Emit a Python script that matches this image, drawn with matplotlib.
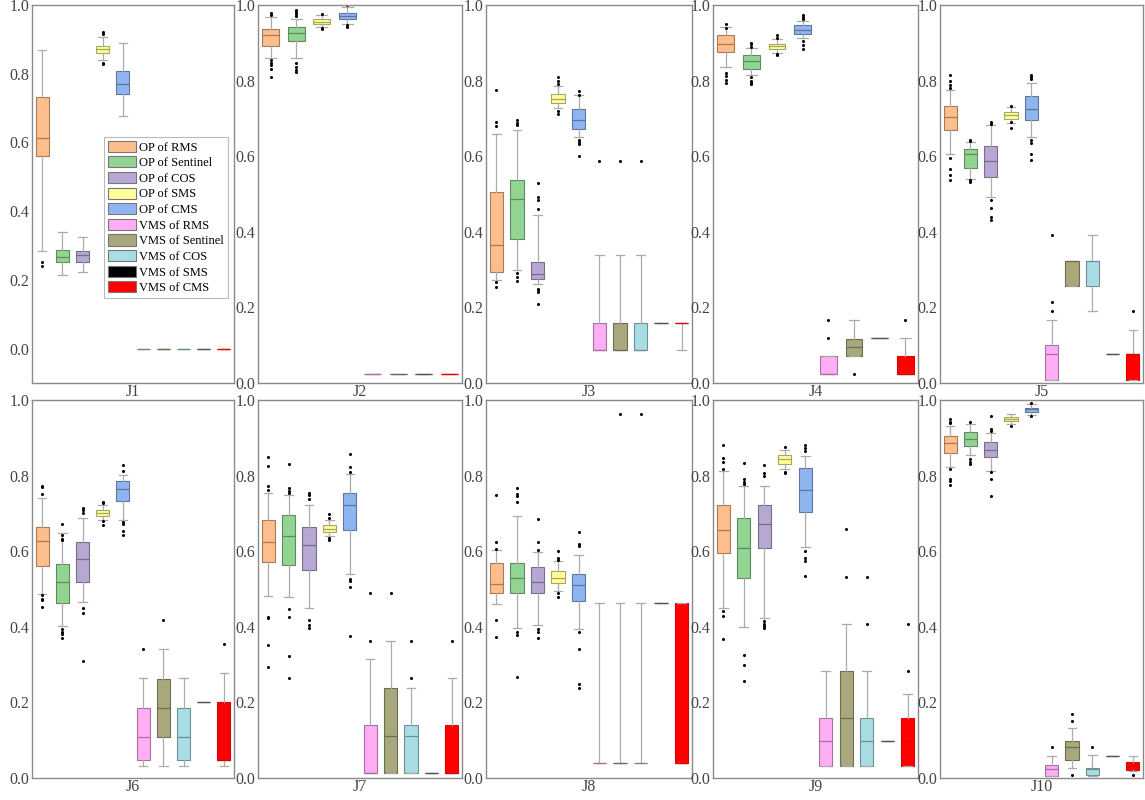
import matplotlib
matplotlib.use("Agg")
import matplotlib.pyplot as plt
from matplotlib.patches import Patch
import matplotlib.colors as mcolors

plt.rcParams['font.family'] = ['Liberation Serif', 'DejaVu Serif']

# ---------------- data ----------------
series = ["OP of RMS", "OP of Sentinel", "OP of COS", "OP of SMS", "OP of CMS",
          "VMS of RMS", "VMS of Sentinel", "VMS of COS", "VMS of SMS", "VMS of CMS"]
colors = ["#FDBE8C", "#92D492", "#B6A8D3", "#FFFF99", "#8FB5F0",
          "#FFAEF6", "#A8A87C", "#A9DDE4", "#000000", "#FF0000"]
panels = ["J1", "J2", "J3", "J4", "J5", "J6", "J7", "J8", "J9", "J10"]
all_series = [0, 1, 2, 3, 4, 5, 6, 7, 8, 9]
no_cos_series = [0, 1, 3, 4, 5, 6, 8, 9]

# J1
J1_lo  = [0.285, 0.214, 0.223, 0.840, 0.677, 0.0, 0.0, 0.0, 0.0, 0.0]
J1_q1  = [0.560, 0.252, 0.252, 0.861, 0.741, 0.0, 0.0, 0.0, 0.0, 0.0]
J1_med = [0.612, 0.267, 0.272, 0.872, 0.769, 0.0, 0.0, 0.0, 0.0, 0.0]
J1_q3  = [0.731, 0.288, 0.284, 0.882, 0.808, 0.0, 0.0, 0.0, 0.0, 0.0]
J1_hi  = [0.869, 0.340, 0.325, 0.908, 0.888, 0.0, 0.0, 0.0, 0.0, 0.0]
J1_fl  = [[0.252, 0.241], [], [], [0.922, 0.915, 0.832, 0.827], [], [], [], [], [], []]

# J2 (no COS)
J2_lo  = [0.861, 0.859, 0.943, 0.951, 0.025, 0.025, 0.025, 0.025]
J2_q1  = [0.891, 0.904, 0.950, 0.962, 0.025, 0.025, 0.025, 0.025]
J2_med = [0.921, 0.925, 0.956, 0.971, 0.025, 0.025, 0.025, 0.025]
J2_q3  = [0.936, 0.941, 0.962, 0.978, 0.025, 0.025, 0.025, 0.025]
J2_hi  = [0.969, 0.963, 0.974, 0.994, 0.025, 0.025, 0.025, 0.025]
J2_fl  = [[0.980, 0.974, 0.854, 0.847, 0.841, 0.832, 0.810],
          [0.988, 0.982, 0.976, 0.971, 0.846, 0.837, 0.828, 0.823],
          [0.975, 0.938, 0.936], [0.999, 0.947, 0.943], [], [], [], []]

# J3
J3_lo  = [0.272, 0.300, 0.262, 0.728, 0.650, 0.088, 0.088, 0.088, 0.159, 0.088]
J3_q1  = [0.294, 0.380, 0.274, 0.740, 0.673, 0.088, 0.088, 0.088, 0.159, 0.159]
J3_med = [0.366, 0.488, 0.289, 0.752, 0.695, 0.088, 0.088, 0.088, 0.159, 0.159]
J3_q3  = [0.506, 0.537, 0.319, 0.765, 0.725, 0.159, 0.159, 0.159, 0.159, 0.159]
J3_hi  = [0.660, 0.668, 0.445, 0.785, 0.762, 0.338, 0.338, 0.338, 0.159, 0.159]
J3_fl  = [[0.254, 0.267, 0.680, 0.690, 0.775],
          [0.290, 0.280, 0.270, 0.682, 0.688, 0.695],
          [0.459, 0.485, 0.492, 0.528, 0.250, 0.245, 0.240, 0.210],
          [0.790, 0.800, 0.810, 0.720, 0.712],
          [0.773, 0.763, 0.642, 0.638, 0.632, 0.600],
          [0.588], [0.588], [0.588], [], []]

# J4 (no COS)
J4_lo  = [0.837, 0.815, 0.872, 0.912, 0.023, 0.071, 0.120, 0.023]
J4_q1  = [0.876, 0.832, 0.883, 0.923, 0.023, 0.071, 0.120, 0.023]
J4_med = [0.898, 0.852, 0.891, 0.935, 0.023, 0.094, 0.120, 0.023]
J4_q3  = [0.921, 0.868, 0.898, 0.947, 0.071, 0.117, 0.120, 0.071]
J4_hi  = [0.943, 0.885, 0.909, 0.958, 0.071, 0.166, 0.120, 0.120]
J4_fl  = [[0.951, 0.938, 0.821, 0.812, 0.801, 0.794],
          [0.900, 0.896, 0.890, 0.810, 0.800, 0.794, 0.790],
          [0.920, 0.914, 0.870, 0.868],
          [0.973, 0.967, 0.962, 0.905, 0.894, 0.883],
          [0.120, 0.166], [0.023], [], [0.166]]

# J5
J5_lo  = [0.607, 0.541, 0.492, 0.687, 0.651, 0.009, 0.257, 0.190, 0.076, 0.009]
J5_q1  = [0.669, 0.568, 0.545, 0.698, 0.697, 0.009, 0.257, 0.257, 0.076, 0.009]
J5_med = [0.704, 0.607, 0.587, 0.709, 0.726, 0.078, 0.323, 0.323, 0.076, 0.076]
J5_q3  = [0.733, 0.620, 0.627, 0.718, 0.759, 0.100, 0.323, 0.323, 0.076, 0.076]
J5_hi  = [0.775, 0.638, 0.682, 0.731, 0.793, 0.166, 0.323, 0.391, 0.076, 0.141]
J5_fl  = [[0.780, 0.788, 0.800, 0.815, 0.594, 0.565, 0.550, 0.537],
          [0.644, 0.640, 0.538, 0.532],
          [0.691, 0.686, 0.485, 0.463, 0.440, 0.432],
          [0.733, 0.690, 0.675],
          [0.815, 0.810, 0.803, 0.644, 0.634, 0.605, 0.590],
          [0.214, 0.190, 0.391], [], [], [], [0.190]]

# J6
J6_lo  = [0.488, 0.402, 0.466, 0.683, 0.683, 0.031, 0.031, 0.031, 0.200, 0.031]
J6_q1  = [0.561, 0.464, 0.519, 0.693, 0.733, 0.047, 0.108, 0.047, 0.200, 0.047]
J6_med = [0.627, 0.519, 0.579, 0.702, 0.764, 0.108, 0.186, 0.108, 0.200, 0.047]
J6_q3  = [0.664, 0.567, 0.625, 0.709, 0.786, 0.186, 0.262, 0.186, 0.200, 0.200]
J6_hi  = [0.742, 0.648, 0.689, 0.722, 0.801, 0.265, 0.340, 0.265, 0.200, 0.278]
J6_fl  = [[0.773, 0.769, 0.751, 0.483, 0.473, 0.471, 0.453],
          [0.671, 0.642, 0.633, 0.630, 0.393, 0.386, 0.380, 0.371],
          [0.713, 0.709, 0.702, 0.450, 0.437, 0.309],
          [0.731, 0.727, 0.680, 0.669],
          [0.828, 0.813, 0.676, 0.671, 0.654, 0.642],
          [0.340], [0.418], [], [], [0.355]]

# J7
J7_lo  = [0.481, 0.480, 0.451, 0.640, 0.540, 0.013, 0.013, 0.013, 0.013, 0.013]
J7_q1  = [0.572, 0.563, 0.550, 0.651, 0.656, 0.013, 0.013, 0.013, 0.013, 0.013]
J7_med = [0.625, 0.639, 0.616, 0.660, 0.722, 0.013, 0.112, 0.112, 0.013, 0.013]
J7_q3  = [0.683, 0.696, 0.665, 0.669, 0.754, 0.139, 0.237, 0.139, 0.013, 0.139]
J7_hi  = [0.755, 0.748, 0.722, 0.683, 0.804, 0.315, 0.362, 0.239, 0.013, 0.264]
J7_fl  = [[0.848, 0.826, 0.773, 0.762, 0.426, 0.424, 0.351, 0.293],
          [0.830, 0.766, 0.760, 0.754, 0.446, 0.427, 0.322, 0.264],
          [0.755, 0.748, 0.739, 0.417, 0.406, 0.397],
          [0.698, 0.689, 0.636, 0.630],
          [0.857, 0.822, 0.810, 0.526, 0.521, 0.504, 0.375],
          [0.362, 0.489], [0.489], [0.264, 0.362], [], [0.362]]

# J8
J8_lo  = [0.460, 0.396, 0.404, 0.494, 0.394, 0.040, 0.040, 0.040, 0.464, 0.040]
J8_q1  = [0.489, 0.490, 0.489, 0.515, 0.467, 0.040, 0.040, 0.040, 0.464, 0.040]
J8_med = [0.512, 0.528, 0.519, 0.528, 0.510, 0.040, 0.040, 0.040, 0.464, 0.040]
J8_q3  = [0.568, 0.568, 0.557, 0.548, 0.539, 0.040, 0.040, 0.040, 0.464, 0.464]
J8_hi  = [0.603, 0.694, 0.598, 0.575, 0.590, 0.464, 0.464, 0.464, 0.464, 0.464]
J8_fl  = [[0.748, 0.624, 0.606, 0.417, 0.373],
          [0.768, 0.751, 0.745, 0.731, 0.385, 0.378, 0.268],
          [0.684, 0.624, 0.602, 0.395, 0.386, 0.371],
          [0.601, 0.583, 0.577, 0.490, 0.478],
          [0.652, 0.619, 0.615, 0.385, 0.341, 0.248, 0.239],
          [], [0.963], [0.963], [], []]

# J9
J9_lo  = [0.451, 0.400, 0.424, 0.817, 0.612, 0.033, 0.033, 0.033, 0.097, 0.033]
J9_q1  = [0.595, 0.530, 0.609, 0.830, 0.703, 0.033, 0.033, 0.033, 0.097, 0.033]
J9_med = [0.656, 0.609, 0.671, 0.844, 0.763, 0.097, 0.159, 0.097, 0.097, 0.097]
J9_q3  = [0.723, 0.689, 0.723, 0.855, 0.820, 0.159, 0.283, 0.159, 0.097, 0.159]
J9_hi  = [0.811, 0.773, 0.773, 0.868, 0.851, 0.283, 0.408, 0.283, 0.097, 0.221]
J9_fl  = [[0.880, 0.846, 0.837, 0.818, 0.442, 0.428, 0.368],
          [0.833, 0.792, 0.784, 0.777, 0.325, 0.300, 0.256],
          [0.827, 0.806, 0.799, 0.415, 0.408, 0.401, 0.397],
          [0.876, 0.810, 0.806],
          [0.880, 0.873, 0.866, 0.600, 0.583, 0.574, 0.534],
          [], [0.533, 0.658], [0.408, 0.533], [], [0.283, 0.408]]

# J10
J10_lo  = [0.824, 0.854, 0.813, 0.936, 0.960, 0.006, 0.026, 0.006, 0.059, 0.018]
J10_q1  = [0.861, 0.877, 0.848, 0.944, 0.968, 0.006, 0.047, 0.009, 0.059, 0.022]
J10_med = [0.887, 0.898, 0.869, 0.951, 0.975, 0.024, 0.082, 0.024, 0.059, 0.031]
J10_q3  = [0.905, 0.916, 0.890, 0.955, 0.980, 0.035, 0.099, 0.026, 0.059, 0.042]
J10_hi  = [0.932, 0.936, 0.913, 0.964, 0.990, 0.059, 0.133, 0.062, 0.059, 0.059]
J10_fl  = [[0.950, 0.943, 0.939, 0.817, 0.792, 0.786, 0.774],
           [0.941, 0.843, 0.836, 0.830],
           [0.958, 0.924, 0.918, 0.809, 0.791, 0.746],
           [0.932], [0.992, 0.958], [0.082], [0.150, 0.168, 0.009], [0.082], [], [0.009]]

panel_data = [
    (J1_lo, J1_q1, J1_med, J1_q3, J1_hi, J1_fl, all_series),
    (J2_lo, J2_q1, J2_med, J2_q3, J2_hi, J2_fl, no_cos_series),
    (J3_lo, J3_q1, J3_med, J3_q3, J3_hi, J3_fl, all_series),
    (J4_lo, J4_q1, J4_med, J4_q3, J4_hi, J4_fl, no_cos_series),
    (J5_lo, J5_q1, J5_med, J5_q3, J5_hi, J5_fl, all_series),
    (J6_lo, J6_q1, J6_med, J6_q3, J6_hi, J6_fl, all_series),
    (J7_lo, J7_q1, J7_med, J7_q3, J7_hi, J7_fl, all_series),
    (J8_lo, J8_q1, J8_med, J8_q3, J8_hi, J8_fl, all_series),
    (J9_lo, J9_q1, J9_med, J9_q3, J9_hi, J9_fl, all_series),
    (J10_lo, J10_q1, J10_med, J10_q3, J10_hi, J10_fl, all_series),
]
y_ticks = [0.0, 0.2, 0.4, 0.6, 0.8, 1.0]

# ---------------- layout ----------------
W, H = 1145, 800
fig = plt.figure(figsize=(W / 100, H / 100), dpi=100)
col_px = [(32, 234), (258, 462), (486, 692), (713, 918), (940, 1143)]
row_px = [(5, 383), (400, 778)]

def darker(c, f=0.65):
    r, g, b = mcolors.to_rgb(c)
    return (r * f, g * f, b * f)

spine_col = "#8a8a8a"
whisk_col = "#ababab"

for k, (name, pd_) in enumerate(zip(panels, panel_data)):
    lo, q1, med, q3, hi, fl, sidx = pd_
    r, c = divmod(k, 5)
    x0, x1 = col_px[c]
    yt, yb = row_px[r]
    ax = fig.add_axes([x0 / W, 1 - yb / H, (x1 - x0) / W, (yb - yt) / H])
    n = len(sidx)
    stats = []
    for i in range(n):
        stats.append(dict(whislo=lo[i], q1=q1[i], med=med[i], q3=q3[i],
                          whishi=hi[i], fliers=fl[i], label=""))
    pos = list(range(1, n + 1))
    res = ax.bxp(stats, positions=pos, widths=0.65, capwidths=0.42,
                 patch_artist=True, showfliers=True,
                 whiskerprops=dict(color=whisk_col, lw=0.9),
                 capprops=dict(color=whisk_col, lw=0.9),
                 flierprops=dict(marker='o', markersize=2.2, markerfacecolor='black',
                                 markeredgecolor='black', markeredgewidth=0, linestyle='none'),
                 medianprops=dict(lw=0.9))
    for i, s in enumerate(sidx):
        fc = colors[s]
        if s == 8:
            ec = "#555555"
        elif s == 9:
            ec = "#dd0000"
        else:
            ec = darker(fc)
        res['boxes'][i].set_facecolor(fc)
        res['boxes'][i].set_edgecolor(ec)
        res['boxes'][i].set_linewidth(0.8)
        res['medians'][i].set_color(ec)
    ax.set_xlim(0.5, n + 0.5)
    if k == 0:
        ax.set_ylim(-0.1, 1.0)
    else:
        ax.set_ylim(0.0, 1.0)
    ax.set_yticks(y_ticks)
    ax.set_yticklabels([f"{v:.1f}" for v in y_ticks])
    ax.set_xticks([(n + 1) / 2])
    ax.set_xticklabels([name])
    ax.tick_params(axis='both', length=0, labelsize=11.5, labelcolor="#444444")
    ax.tick_params(axis='y', pad=2)
    ax.tick_params(axis='x', pad=1)
    for sp in ax.spines.values():
        sp.set_color(spine_col)
        sp.set_linewidth(1.0)
    if k == 0:
        handles = [Patch(facecolor=colors[s], edgecolor="#777777", linewidth=0.8)
                   for s in all_series]
        leg = ax.legend(handles, series, loc='upper right', bbox_to_anchor=(0.97, 0.651),
                        borderaxespad=0, fontsize=9, handlelength=2.2, handleheight=1.0,
                        labelspacing=0.22, handletextpad=0.3, borderpad=0.3,
                        fancybox=False, framealpha=1)
        leg.get_frame().set_edgecolor("#bbbbbb")
        leg.get_frame().set_linewidth(0.8)

fig.savefig("out.png", dpi=100)
